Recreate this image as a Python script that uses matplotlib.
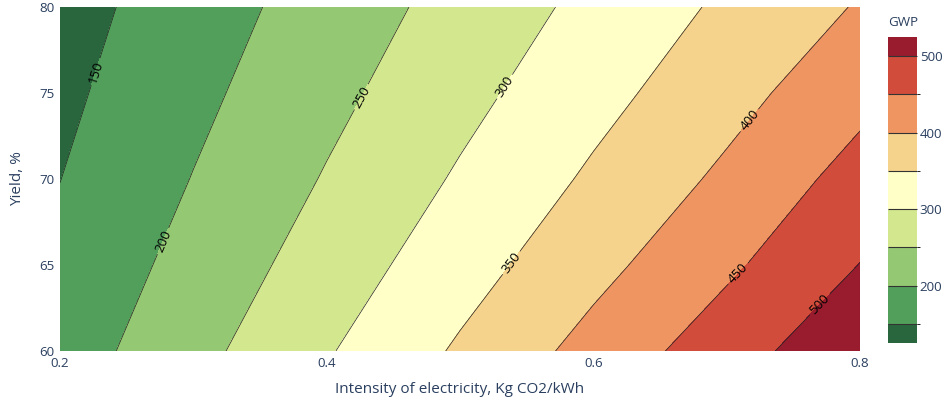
import numpy as np
import matplotlib.pyplot as plt
from matplotlib.colors import ListedColormap, BoundaryNorm

plt.rcParams['font.family'] = ['Open Sans', 'DejaVu Sans']

# grid of GWP values
intensity = [0.2, 0.3, 0.4, 0.5, 0.6, 0.7, 0.8]
yield_pct = [60, 65, 70, 75, 80]
gwp = [
    [174.4, 235.1, 295.8, 356.5, 417.2, 477.9, 538.6],
    [161.0, 217.0, 273.0, 329.1, 385.1, 441.1, 501.0],
    [149.5, 201.5, 253.5, 305.6, 357.6, 409.6, 469.0],
    [139.5, 188.1, 236.6, 285.2, 333.8, 382.3, 435.0],
    [130.8, 176.3, 221.9, 267.4, 312.9, 358.4, 404.0],
]
levels = [100, 150, 200, 250, 300, 350, 400, 450, 500, 550]
band_colors = ['#2a663d', '#529f5c', '#95c873', '#d3e78f', '#ffffc7',
               '#f6d38d', '#ee9562', '#d14c3b', '#981c2e']
label_pos = [(0.228, 76.2), (0.277, 66.4), (0.423, 74.9), (0.535, 75.3),
             (0.539, 65.1), (0.719, 73.3), (0.71, 64.4), (0.77, 62.7)]

txt = '#2a3f5f'
W, H = 943, 398
fig = plt.figure(figsize=(W/100, H/100), dpi=100)
ax = fig.add_axes([60/W, 1-351/H, 800/W, 344/H])
cax = fig.add_axes([888/W, 1-343/H, 29/W, 306/H])

X, Y = np.meshgrid(intensity, yield_pct)
Z = np.array(gwp)
cmap = ListedColormap(band_colors)
norm = BoundaryNorm(levels, cmap.N)
cf = ax.contourf(X, Y, Z, levels=levels, cmap=cmap, norm=norm)
cl = ax.contour(X, Y, Z, levels=levels[1:-1], colors='#222222', linewidths=0.5)
ax.clabel(cl, fmt='%d', fontsize=9.5, colors='black', manual=label_pos, inline=True, inline_spacing=3)

ax.set_xlim(0.2, 0.8)
ax.set_ylim(60, 80)
ax.set_xticks([0.2, 0.4, 0.6, 0.8])
ax.set_xticklabels(['0.2', '0.4', '0.6', '0.8'])
ax.set_yticks([60, 65, 70, 75, 80])
ax.tick_params(length=0, labelsize=9.6, labelcolor=txt, pad=4)
for s in ax.spines.values():
    s.set_visible(False)
ax.set_xlabel('Intensity of electricity, Kg CO2/kWh', fontsize=11, color=txt, labelpad=9)
ax.set_ylabel('Yield, %', fontsize=11, color=txt, labelpad=10)

cb = fig.colorbar(cf, cax=cax, drawedges=True)
cb.outline.set_visible(False)
cb.dividers.set_color('#333333')
cb.dividers.set_linewidth(0.8)
cax.set_ylim(125, 525)
cb.set_ticks([200, 300, 400, 500])
cax.tick_params(length=0, labelsize=9.6, labelcolor=txt, pad=2)
cax.set_title('GWP', fontsize=9.6, color=txt, loc='left', pad=8)

fig.savefig('out.png', dpi=100)
